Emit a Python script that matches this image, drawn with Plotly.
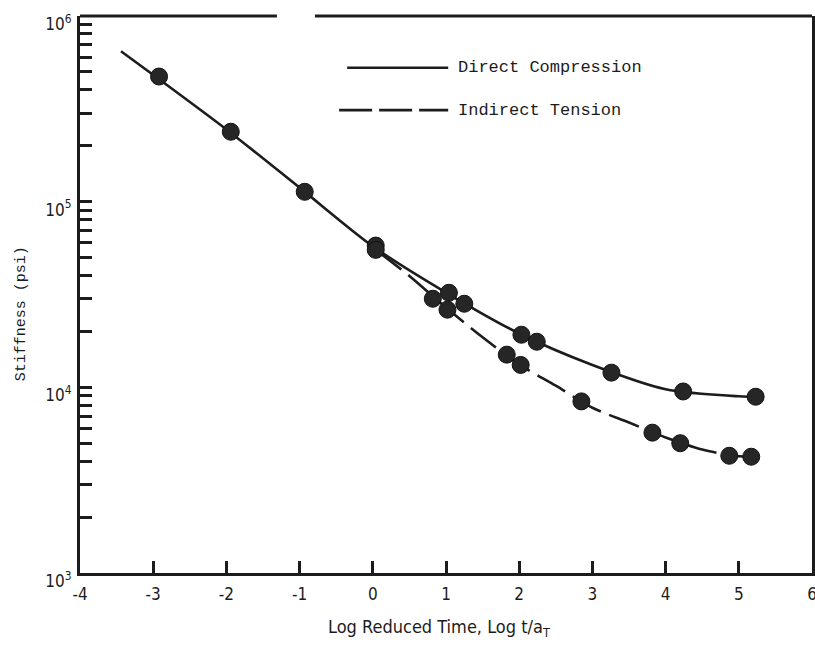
import plotly.graph_objects as go

# ---- data ----
# Direct compression: measured points
dc_logt = [-2.92, -1.94, -0.93, 0.04, 1.04, 1.25, 2.03, 2.24, 3.26, 4.24, 5.23]
dc_stiff = [4.72e5, 2.38e5, 1.13e5, 5.8e4, 3.23e4, 2.82e4, 1.92e4, 1.76e4, 1.20e4, 9.5e3, 8.9e3]
# Direct compression: fitted curve
dc_curve_logt = [-3.44, -2.0, -1.0, 0.0, 1.0, 2.0, 3.0, 4.0, 5.0, 5.25]
dc_curve_stiff = [6.46e5, 2.45e5, 1.19e5, 5.75e4, 3.24e4, 1.95e4, 1.32e4, 9.77e3, 8.95e3, 8.9e3]

# Indirect tension: measured points
it_logt = [0.04, 0.82, 1.02, 1.83, 2.02, 2.85, 3.82, 4.20, 4.87, 5.17]
it_stiff = [5.5e4, 3.0e4, 2.62e4, 1.50e4, 1.32e4, 8.4e3, 5.7e3, 5.0e3, 4.28e3, 4.23e3]
# Indirect tension: fitted curve
it_curve_logt = [0.04, 0.5, 1.0, 1.5, 2.0, 2.5, 3.0, 3.5, 4.0, 4.5, 5.0, 5.17]
it_curve_stiff = [5.5e4, 3.98e4, 2.69e4, 1.86e4, 1.33e4, 1.02e4, 7.76e3, 6.46e3, 5.37e3, 4.62e3, 4.25e3, 4.23e3]

x_ticks = [-4, -3, -2, -1, 0, 1, 2, 3, 4, 5, 6]
decades = [3, 4, 5, 6]
legend_labels = ["Direct Compression", "Indirect Tension"]

INK = "#1c1c1c"
NARROW = "Liberation Sans Narrow, DejaVu Sans Condensed, Liberation Sans, sans-serif"
MONO = "Liberation Mono, DejaVu Sans Mono, monospace"

# y tick values: decades plus minor 2..9 in each decade
y_tickvals, y_ticktext = [], []
for d in decades:
    y_tickvals.append(10 ** d)
    y_ticktext.append(f"10<sup>{d}</sup>")
    if d < decades[-1]:
        for m in range(2, 10):
            y_tickvals.append(m * 10 ** d)
            y_ticktext.append("")

fig = go.Figure()
fig.add_trace(go.Scatter(x=dc_curve_logt, y=dc_curve_stiff, mode="lines",
                         line=dict(color=INK, width=2.6, shape="spline", smoothing=0.8),
                         showlegend=False, hoverinfo="skip"))
fig.add_trace(go.Scatter(x=it_curve_logt, y=it_curve_stiff, mode="lines",
                         line=dict(color=INK, width=2.6, shape="spline", smoothing=0.8,
                                   dash="32px,9px"),
                         showlegend=False, hoverinfo="skip"))
fig.add_trace(go.Scatter(x=dc_logt, y=dc_stiff, mode="markers", name=legend_labels[0],
                         marker=dict(size=17, color="#262626", line=dict(color="#111", width=1)),
                         showlegend=False))
fig.add_trace(go.Scatter(x=it_logt, y=it_stiff, mode="markers", name=legend_labels[1],
                         marker=dict(size=17, color="#262626", line=dict(color="#111", width=1)),
                         showlegend=False))

fig.update_xaxes(range=[x_ticks[0], x_ticks[-1]], tickvals=x_ticks,
                 ticktext=[str(v) for v in x_ticks],
                 ticks="inside", ticklen=12, tickwidth=2.5, tickcolor=INK,
                 showline=True, linecolor=INK, linewidth=3, mirror=False,
                 showgrid=False, zeroline=False, automargin=False,
                 ticklabelstandoff=4, ticklabeloverflow="allow",
                 tickfont=dict(family=NARROW, size=17, color=INK))
fig.update_yaxes(type="log", range=[decades[0], decades[-1]],
                 tickvals=y_tickvals, ticktext=y_ticktext,
                 ticks="inside", ticklen=12, tickwidth=2.5, tickcolor=INK,
                 showline=True, linecolor=INK, linewidth=3, mirror=True,
                 showgrid=False, zeroline=False, automargin=False,
                 ticklabelshift=8, ticklabelstandoff=2,
                 tickfont=dict(family=NARROW, size=17, color=INK))

# top frame line with a gap (as in the original)
fig.add_shape(type="line", xref="paper", yref="paper", x0=0, x1=0.269, y0=1, y1=1,
              line=dict(color=INK, width=3))
fig.add_shape(type="line", xref="paper", yref="paper", x0=0.321, x1=1, y0=1, y1=1,
              line=dict(color=INK, width=3))

# legend samples
fig.add_shape(type="line", xref="paper", yref="paper", x0=0.365, x1=0.503, y0=0.907, y1=0.907,
              line=dict(color=INK, width=2.6))
fig.add_shape(type="line", xref="paper", yref="paper", x0=0.354, x1=0.503, y0=0.831, y1=0.831,
              line=dict(color=INK, width=2.6, dash="33px,7px"))
fig.add_annotation(text=legend_labels[0], xref="paper", yref="paper", x=0.513, y=0.907,
                   xanchor="left", yanchor="middle", showarrow=False,
                   font=dict(family=MONO, size=17, color=INK))
fig.add_annotation(text=legend_labels[1], xref="paper", yref="paper", x=0.513, y=0.831,
                   xanchor="left", yanchor="middle", showarrow=False,
                   font=dict(family=MONO, size=17, color=INK))

# axis titles
fig.add_annotation(text="Stiffness (psi)", xref="paper", yref="paper",
                   x=-0.079, y=0.465, textangle=-90, showarrow=False,
                   xanchor="center", yanchor="middle",
                   font=dict(family=MONO, size=15, color=INK))
fig.add_annotation(text="Log Reduced Time, Log t/a<sub>T</sub>", xref="paper", yref="paper",
                   x=0.49, y=-0.098, showarrow=False, xanchor="center", yanchor="middle",
                   font=dict(family=NARROW, size=18, color=INK))

fig.update_layout(width=815, height=645, margin=dict(l=80, r=3, t=16, b=72),
                  paper_bgcolor="white", plot_bgcolor="white", showlegend=False)

fig.write_html("out.html", config={"displayModeBar": False},
               post_script="document.body.style.margin='0';document.body.style.overflow='hidden';")
